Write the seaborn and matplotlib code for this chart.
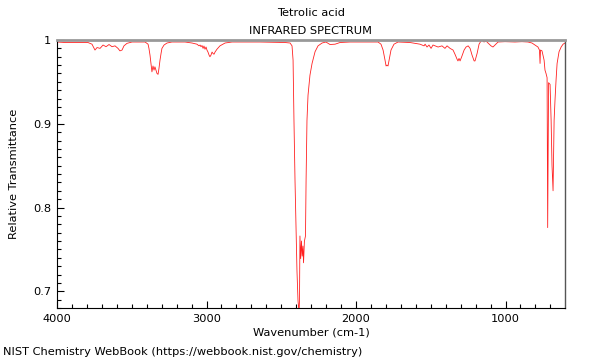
import numpy as np
import pandas as pd
import seaborn as sns
import matplotlib.pyplot as plt
from matplotlib.ticker import MultipleLocator, FormatStrFormatter

# IR spectrum of tetrolic acid
wavenumber = [
    4000, 3946, 3846, 3793, 3766, 3746, 3732, 3712, 3692, 3672, 3652, 3632,
    3612, 3592, 3579, 3565, 3552, 3532, 3498, 3411, 3391, 3385, 3378, 3371,
    3365, 3358, 3351, 3345, 3338, 3331, 3324, 3318, 3311, 3304, 3298, 3284,
    3264, 3231, 3144, 3097, 3064, 3050, 3043, 3037, 3030, 3023, 3017, 3010,
    3003, 2997, 2990, 2983, 2977, 2970, 2963, 2957, 2950, 2943, 2930, 2910,
    2876, 2829, 2642, 2475, 2441, 2428, 2421, 2415, 2408, 2401, 2395, 2388,
    2381, 2378, 2375, 2370, 2365, 2360, 2355, 2351, 2345, 2338, 2334, 2328,
    2321, 2308, 2294, 2274, 2254, 2227, 2201, 2174, 2140, 2107, 2040, 1853,
    1833, 1819, 1806, 1799, 1793, 1786, 1779, 1766, 1746, 1719, 1639, 1572,
    1545, 1538, 1525, 1512, 1498, 1485, 1471, 1451, 1425, 1405, 1391, 1371,
    1351, 1338, 1324, 1318, 1311, 1304, 1291, 1277, 1264, 1250, 1237, 1224,
    1210, 1204, 1190, 1177, 1164, 1157, 1144, 1130, 1117, 1097, 1084, 1070,
    1050, 1003, 937, 890, 850, 823, 803, 783, 773, 769, 766, 756, 742, 736,
    729, 722, 718, 712, 702, 695, 689, 682, 675, 669, 662, 655, 642, 628,
    615, 602,
]
transmittance = [
    0.9976, 0.997, 0.997, 0.997, 0.995, 0.988, 0.991, 0.990, 0.994, 0.992,
    0.9946, 0.992, 0.993, 0.990, 0.987, 0.988, 0.993, 0.996, 0.9976, 0.9976,
    0.995, 0.990, 0.982, 0.971, 0.962, 0.969, 0.964, 0.968, 0.964, 0.960,
    0.959, 0.966, 0.976, 0.984, 0.990, 0.994, 0.9964, 0.9976, 0.9976, 0.9964,
    0.995, 0.993, 0.994, 0.992, 0.9934, 0.990, 0.9928, 0.989, 0.9916, 0.988,
    0.9856, 0.982, 0.980, 0.982, 0.9856, 0.984, 0.983, 0.9856, 0.989, 0.993,
    0.9964, 0.9976, 0.9976, 0.997, 0.9964, 0.993, 0.976, 0.904, 0.832, 0.772,
    0.725, 0.689, 0.674, 0.689, 0.766, 0.739, 0.760, 0.742, 0.754, 0.734,
    0.760, 0.766, 0.832, 0.904, 0.934, 0.958, 0.972, 0.986, 0.993, 0.9964,
    0.9976, 0.9946, 0.995, 0.997, 0.9976, 0.9976, 0.995, 0.988, 0.976, 0.969,
    0.970, 0.969, 0.976, 0.988, 0.995, 0.9976, 0.997, 0.995, 0.993, 0.995,
    0.9916, 0.994, 0.990, 0.994, 0.993, 0.9916, 0.993, 0.990, 0.993, 0.990,
    0.988, 0.983, 0.977, 0.975, 0.978, 0.975, 0.981, 0.988, 0.9916, 0.993,
    0.990, 0.982, 0.975, 0.975, 0.984, 0.995, 0.9988, 1.000, 0.9976, 0.9988,
    0.9964, 0.993, 0.9916, 0.994, 0.9976, 0.998, 0.9976, 0.998, 0.9976,
    0.9964, 0.994, 0.9916, 0.988, 0.972, 0.988, 0.987, 0.976, 0.964, 0.960,
    0.955, 0.776, 0.949, 0.947, 0.904, 0.850, 0.820, 0.904, 0.928, 0.952,
    0.972, 0.986, 0.9916, 0.995, 0.9964,
]

df = pd.DataFrame({'wavenumber': wavenumber, 'transmittance': transmittance})

sns.set_theme(style='ticks')
plt.rcParams['font.family'] = ['DejaVu Sans']
plt.rcParams['text.color'] = 'black'
plt.rcParams['axes.labelcolor'] = 'black'

fs = 8.2

fig = plt.figure(figsize=(6, 3.6), dpi=100)
ax = fig.add_axes([0.095, 0.1444, 0.8467, 0.7445])

sns.lineplot(data=df, x='wavenumber', y='transmittance', color='#ff2020',
             linewidth=0.6, estimator=None, ax=ax)

ax.set_xlim(4000, 602)
ax.set_ylim(0.68, 1.0)
ax.xaxis.set_major_locator(MultipleLocator(1000))
ax.xaxis.set_minor_locator(MultipleLocator(100))
ax.yaxis.set_major_locator(MultipleLocator(0.1))
ax.yaxis.set_minor_locator(MultipleLocator(0.01))
ax.yaxis.set_major_formatter(FormatStrFormatter('%g'))
ax.tick_params(which='both', direction='in', labelsize=fs, color='black',
               labelcolor='black', pad=4)
ax.tick_params(which='major', length=5, width=0.8)
ax.tick_params(which='minor', length=3, width=0.8)

for side in ['left', 'bottom']:
    ax.spines[side].set_color('black')
    ax.spines[side].set_linewidth(0.8)
ax.spines['top'].set_color('#999999')
ax.spines['top'].set_linewidth(2)
ax.spines['right'].set_color('#555555')
ax.spines['right'].set_linewidth(1)

ax.set_xlabel('Wavenumber (cm-1)', fontsize=fs, labelpad=3)
ax.set_ylabel('Relative Transmittance', fontsize=fs, labelpad=10)

fig.text(0.518, 0.965, 'Tetrolic acid', ha='center', va='center', fontsize=fs)
fig.text(0.518, 0.915, 'INFRARED SPECTRUM', ha='center', va='center', fontsize=fs)
fig.text(0.005, 0.022, 'NIST Chemistry WebBook (https://webbook.nist.gov/chemistry)',
         ha='left', va='center', fontsize=fs)

fig.savefig('out.png', dpi=100)
